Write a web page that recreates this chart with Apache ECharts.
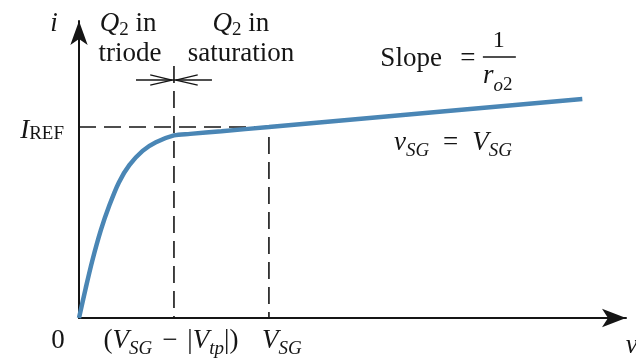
<!DOCTYPE html>
<html>
<head>
<meta charset="utf-8">
<script src="https://cdn.jsdelivr.net/npm/echarts@6/dist/echarts.min.js"></script>
<style>
  html, body { margin: 0; padding: 0; background: #fff; }
  #chart { width: 636px; height: 358px; }
</style>
</head>
<body>
<div id="chart"></div>
<script>
// Output characteristic of the mirror transistor Q2: current i against voltage v
const vSD = [0, 0.07, 0.14, 0.23, 0.32, 0.42, 0.53, 0.67, 0.81, 1.0, 1.17, 1.5, 2.0, 3.0, 4.0, 5.3];
const iD  = [0, 0.155, 0.30, 0.46, 0.59, 0.71, 0.80, 0.875, 0.92, 0.956, 0.964, 0.978, 1.0, 1.045, 1.089, 1.147];

// Marked levels
const vEdge = 1.0;   // V_SG − |V_tp|, triode/saturation boundary
const vSG = 2.0;     // v = V_SG
const iREF = 1.0;    // I_REF

// Tick labels along the v axis (rich text)
const tickLabels = ['0', '({it|V}{sub|SG}{op|−}|{it|V}{sub|tp}|)', '{it|V}{sub|SG}'];

const SERIF = "'Liberation Serif', 'DejaVu Serif', serif";
const INK = '#151515';
const BLUE = '#4a86b5';

const rich = {
  rm:   { fontFamily: SERIF, fontSize: 27, color: INK },
  it:   { fontFamily: SERIF, fontSize: 27, fontStyle: 'italic', color: INK },
  sub:  { fontFamily: SERIF, fontSize: 19, fontStyle: 'italic', color: INK, padding: [16, 0, 0, 0] },
  q2:   { fontFamily: SERIF, fontSize: 19, color: INK, padding: [12, 0, 0, 0] },
  ref:  { fontFamily: SERIF, fontSize: 19, color: INK, padding: [6, 0, 0, 0] },
  osub: { fontFamily: SERIF, fontSize: 19, fontStyle: 'italic', color: INK, padding: [19, 0, 0, 0] },
  o2:   { fontFamily: SERIF, fontSize: 19, color: INK, padding: [19, 0, 0, 0] },
  op:   { fontFamily: SERIF, fontSize: 27, color: INK, padding: [0, 10, 0, 10] },
  eq:   { fontFamily: SERIF, fontSize: 27, color: INK, padding: [0, 14, 0, 14] },
  one:  { fontFamily: SERIF, fontSize: 24, color: INK }
};

const X_MAX = 5.76;
const Y_MAX = 1.555;

const chart = echarts.init(document.getElementById('chart'), null, { renderer: 'canvas' });

const dashed = { color: INK, width: 1.6, type: [17, 8] };
const thin = { color: INK, width: 1.3 };

function guide(data, lineStyle, z) {
  return {
    type: 'line', data: data, showSymbol: false, symbol: 'none',
    lineStyle: lineStyle, silent: true, clip: false, z: z || 2, animation: false
  };
}

// Boundary arrows above the plot
const arrowY = 1.246;

chart.setOption({
  animation: false,
  backgroundColor: '#fff',
  grid: { left: 79, right: 10, top: 21, bottom: 40, containLabel: false },
  xAxis: {
    type: 'value', min: 0, max: X_MAX,
    axisLine: { onZero: true, lineStyle: { color: INK, width: 2 }, symbol: ['none', 'arrow'], symbolSize: [14, 24] },
    axisTick: { show: false }, axisLabel: { show: false }, splitLine: { show: false }
  },
  yAxis: {
    type: 'value', min: 0, max: Y_MAX,
    axisLine: { onZero: true, lineStyle: { color: INK, width: 2 }, symbol: ['none', 'arrow'], symbolSize: [13, 24] },
    axisTick: { show: false }, axisLabel: { show: false }, splitLine: { show: false }
  },
  series: [
    // I_REF level and the V_SG drop line
    guide([[0, iREF], [vSG, iREF], [vSG, 0]], dashed),
    // triode / saturation boundary
    guide([[vEdge, 1.32], [vEdge, 0]], dashed),
    // double arrow pointing at the boundary
    guide([[0.6, arrowY], [1.4, arrowY]], thin),
    guide([[0.75, arrowY + 0.027], [vEdge - 0.02, arrowY], [0.75, arrowY - 0.027]], thin),
    guide([[1.25, arrowY + 0.027], [vEdge + 0.02, arrowY], [1.25, arrowY - 0.027]], thin),
    // fraction bar of 1/r_o2
    guide([[4.253, 1.366], [4.6, 1.366]], { color: INK, width: 1.5 }),
    {
      type: 'line', name: 'i',
      data: vSD.map((v, k) => [v, iD[k]]),
      smooth: 0.3,
      showSymbol: false, symbol: 'none',
      lineStyle: { color: BLUE, width: 4.5, cap: 'butt' },
      z: 5, animation: false
    }
  ]
});

// Text annotations anchored in data coordinates
const notes = [
  { at: [-0.264, 1.539], text: '{it|i}' },
  { at: [0.516, 1.539], text: '{it|Q}{q2|2}{rm| in}' },
  { at: [0.537, 1.382], text: '{rm|triode}' },
  { at: [1.705, 1.539], text: '{it|Q}{q2|2}{rm| in}' },
  { at: [1.705, 1.382], text: '{rm|saturation}' },
  { at: [-0.158, 0.979], text: '{it|I}{ref|REF}', align: 'right' },
  { at: [3.821, 1.356], text: '{rm|Slope}', align: 'right' },
  { at: [4.095, 1.356], text: '{rm|=}' },
  { at: [4.421, 1.452], text: '{one|1}' },
  { at: [4.253, 1.267], text: '{it|r}{osub|o}{o2|2}', align: 'left' },
  { at: [3.316, 0.916], text: '{it|v}{sub|SG}{eq|=}{it|V}{sub|SG}', align: 'left' },
  { at: [-0.221, -0.120], text: tickLabels[0] },
  { at: [vEdge - 0.032, -0.120], text: tickLabels[1] },
  { at: [vSG - 0.074, -0.120], text: tickLabels[2], align: 'left' },
  { at: [5.758, -0.147], text: '{it|v}', align: 'left' }
];

chart.setOption({
  graphic: notes.map(n => {
    const p = chart.convertToPixel({ gridIndex: 0 }, n.at);
    return {
      type: 'text', x: p[0], y: p[1], silent: true, z: 10,
      style: {
        text: n.text, rich: rich,
        fontFamily: SERIF, fontSize: 27, fill: INK,
        align: n.align || 'center', verticalAlign: 'middle'
      }
    };
  })
});
</script>
</body>
</html>
